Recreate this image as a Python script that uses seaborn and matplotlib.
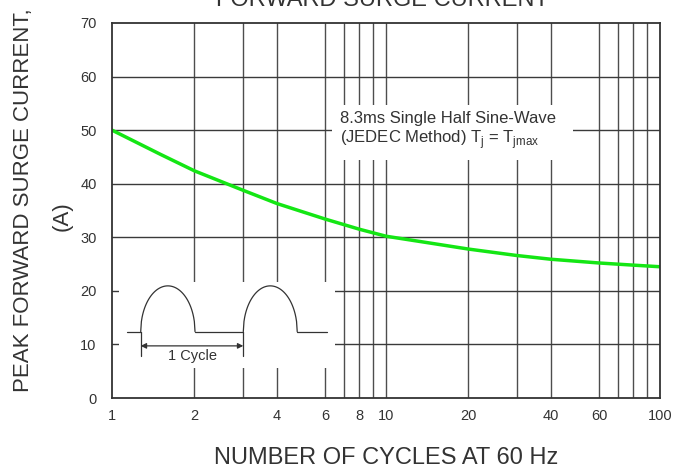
import numpy as np
import pandas as pd
import seaborn as sns
import matplotlib.pyplot as plt
from matplotlib.patches import Rectangle

# curve
cycles = [1, 1.5, 2, 3, 4, 5, 6, 8, 10, 15, 20, 30, 40, 60, 80, 100]
current = [50.0, 45.5, 42.4, 38.8, 36.3, 34.7, 33.4, 31.5, 30.2, 28.8, 27.8, 26.6, 25.9, 25.2, 24.8, 24.5]

x_ticks = [1, 2, 4, 6, 8, 10, 20, 40, 60, 100]
y_ticks = [0, 10, 20, 30, 40, 50, 60, 70]
grid_x = [2, 3, 4, 6, 7, 8, 9, 10, 20, 30, 40, 60, 70, 80, 90]
grid_y = [10, 20, 30, 40, 50, 60]

sns.set_style('white')
plt.rcParams['font.family'] = ['Liberation Sans', 'DejaVu Sans']
plt.rcParams['mathtext.fontset'] = 'custom'
plt.rcParams['mathtext.rm'] = 'Liberation Sans'

ink = '#333333'

df = pd.DataFrame({'cycles': cycles, 'current': current})

fig = plt.figure(figsize=(6.76, 4.69), dpi=100)
ax = fig.add_axes([112 / 676, 71 / 469, 548 / 676, 375 / 469])

for gx in grid_x:
    ax.axvline(gx, color='#4d4d4d', lw=1.0, zorder=1)
for gy in grid_y:
    ax.axhline(gy, color='#3a3a3a', lw=1.0, zorder=1)

sns.lineplot(data=df, x='cycles', y='current', ax=ax, color='#14e614', lw=2.5, zorder=4)

ax.set_xscale('log')
ax.set_xlim(1, 100)
ax.set_ylim(0, 70)
ax.set_xticks(x_ticks)
ax.set_xticklabels([str(v) for v in x_ticks])
ax.xaxis.set_minor_locator(plt.NullLocator())
ax.set_yticks(y_ticks)
ax.tick_params(axis='both', length=0, labelsize=10.5, labelcolor=ink)
ax.tick_params(axis='x', pad=8)
ax.tick_params(axis='y', pad=11)
ax.set_xlabel('')
ax.set_ylabel('')
for s in ax.spines.values():
    s.set_color(ink)
    s.set_linewidth(1.3)
    s.set_zorder(5)

# text box covering the grid
ax.add_patch(Rectangle((0.401, 0.635), 0.44, 0.146, transform=ax.transAxes,
                       facecolor='white', edgecolor='none', zorder=2))
ax.text(0.416, 0.712, '8.3ms Single Half Sine-Wave\n(JEDEC Method) T$_\\mathregular{j}$ = T$_\\mathregular{jmax}$',
        transform=ax.transAxes, ha='left', va='center', fontsize=12, color=ink,
        linespacing=1.1, zorder=3)

# inset sketch of the half sine waves
ax.add_patch(Rectangle((0.0128, 0.08), 0.394, 0.229, transform=ax.transAxes,
                       facecolor='white', edgecolor='none', zorder=2))
base, peak = 0.177, 0.299
hump_start = [0.0524, 0.2396]
hump_end = [0.1515, 0.338]
lead_x, tail_x = 0.0268, 0.392
t = np.linspace(0, 1, 80)
arc = np.sqrt(1 - (2 * t - 1) ** 2)
kw = dict(transform=ax.transAxes, color=ink, lw=0.9, zorder=3)
ax.plot([lead_x, hump_start[0]], [base, base], **kw)
ax.plot([hump_end[0], hump_start[1]], [base, base], **kw)
ax.plot([hump_end[1], tail_x], [base, base], **kw)
for a, b in zip(hump_start, hump_end):
    ax.plot(a + (b - a) * t, base + (peak - base) * arc, **kw)
for a in hump_start:
    ax.plot([a, a], [base, 0.112], **kw)
ax.annotate('', xy=(hump_start[1], 0.139), xytext=(hump_start[0], 0.139),
            xycoords='axes fraction',
            arrowprops=dict(arrowstyle='<|-|>', color=ink, lw=0.9, mutation_scale=8,
                            shrinkA=0, shrinkB=0), zorder=3)
ax.text(0.147, 0.112, '1 Cycle', transform=ax.transAxes, ha='center', va='center',
        fontsize=10.5, color=ink, zorder=3)

fig.text(382 / 676, 1 - 6 / 469, 'FORWARD SURGE CURRENT', ha='center', va='baseline',
         fontsize=17, color=ink)
fig.text(386 / 676, 1 - 447 / 469, 'NUMBER OF CYCLES AT 60 Hz', ha='center', va='top',
         fontsize=17, color=ink)
fig.text(24 / 676, 1 - 200 / 469, 'PEAK FORWARD SURGE CURRENT,', rotation=90,
         ha='center', va='center', fontsize=16, color=ink)
fig.text(62 / 676, 1 - 216 / 469, '(A)', rotation=90,
         ha='center', va='center', fontsize=16, color=ink)

fig.savefig('out.png', dpi=100)
